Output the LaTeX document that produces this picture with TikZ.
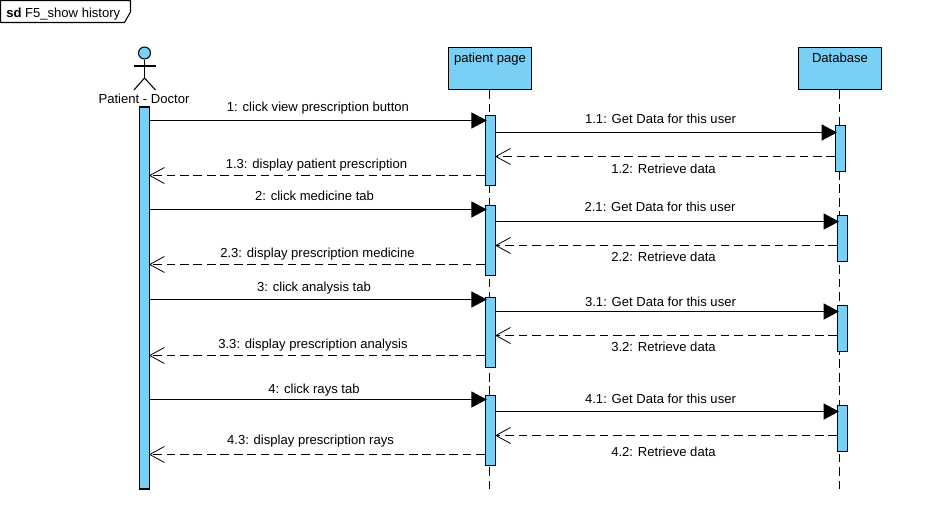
\documentclass[tikz,border=0pt]{standalone}
\usepackage{fontspec}
\setmainfont{Liberation Sans}
\usepackage{xcolor}
\usetikzlibrary{arrows.meta}
\definecolor{lifeblue}{HTML}{7ACFF5}
\tikzset{
  box/.style={draw,fill=lifeblue,line width=0.8pt,minimum width=62.4pt,minimum height=31.7pt,inner sep=0pt},
  boxtext/.style={font=\fontsize{9.8}{11}\selectfont,inner sep=0pt,text height=7pt,text depth=2pt,yshift=-0.6pt},
  bar/.style={draw,fill=lifeblue,line width=0.8pt,minimum width=7.6pt,inner sep=0pt},
  lbl/.style={font=\fontsize{9.8}{11}\selectfont,inner sep=0pt,text height=7pt,text depth=2pt,yshift=-0.6pt},
  call/.style={line width=0.8pt,shorten >=-1.4pt,-{Triangle[length=11.5pt,width=12pt]}},
  reply/.style={line width=0.8pt,dash pattern=on 6.5pt off 3.6pt,shorten >=-0.8pt,-{Straight Barb[length=11pt,width=12pt,line width=0.6pt]}},
  life/.style={line width=0.8pt,dash pattern=on 6.5pt off 3.6pt}
}
\begin{document}
\begin{tikzpicture}[x=0.75pt,y=-0.75pt]
  \useasboundingbox (0,0) rectangle (928,509);
  \draw[line width=0.8pt] (0.5,0.5) -- (130.5,0.5) -- (130.5,12) -- (124.5,22.5) -- (0.5,22.5) --cycle;
  \node[lbl,anchor=west] (title) at (6,13) {\textbf{sd} F5\_show history};

  \node[box] (page) at (490,68.5) {};
  \node[box] (base) at (840,68.5) {};
  \node[boxtext] (pagetext) at (490,58) {patient page};
  \node[boxtext] (basetext) at (840,58) {Database};
  \coordinate (pageend) at (489.5,489);
  \coordinate (baseend) at (839.5,489);
  \draw[life] (page.south -| pageend) -- (pageend);
  \draw[life] (base.south -| baseend) -- (baseend);

  \node[circle,draw,fill=lifeblue,line width=0.8pt,minimum size=9pt,inner sep=0pt] (head) at (144.5,53) {};
  \coordinate (waist) at (144.5,78);
  \coordinate (armleft) at (134,66);
  \coordinate (armright) at (155.5,66);
  \coordinate (footleft) at (134,90);
  \coordinate (footright) at (155.5,90);
  \draw[line width=0.8pt] (head) -- (waist);
  \draw[line width=0.8pt] (armleft) -- (armright);
  \draw[line width=0.8pt] (footleft) -- (waist) -- (footright);
  \node[lbl] (actor) at (144,99.5) {Patient - Doctor};

  \node[bar,minimum height=286.5pt] (main) at (144.4,298) {};

  \node[bar,minimum height=52.5pt] (page1) at (490.5,150.3) {};
  \node[bar,minimum height=52.5pt] (page2) at (490.5,240.3) {};
  \node[bar,minimum height=52.5pt] (page3) at (490.5,332.3) {};
  \node[bar,minimum height=52.5pt] (page4) at (490.5,430.3) {};
  \node[bar,minimum height=34.2pt] (base1) at (840.7,148.5) {};
  \node[bar,minimum height=34.2pt] (base2) at (842.7,238.5) {};
  \node[bar,minimum height=34.2pt] (base3) at (842.7,328.5) {};
  \node[bar,minimum height=34.2pt] (base4) at (842.7,428.5) {};

  \draw[call] (main.east |- 0,120.5) -- (page1.west |- 0,120.5);
  \draw[call] (page1.east |- 0,132.5) -- (base1.west |- 0,132.5);
  \draw[reply] (base1.west |- 0,156.5) -- (page1.east |- 0,156.5);
  \draw[reply] (page1.west |- 0,175.5) -- (main.east |- 0,175.5);

  \draw[call] (main.east |- 0,209.5) -- (page2.west |- 0,209.5);
  \draw[call] (page2.east |- 0,221.5) -- (base2.west |- 0,221.5);
  \draw[reply] (base2.west |- 0,245.5) -- (page2.east |- 0,245.5);
  \draw[reply] (page2.west |- 0,264.5) -- (main.east |- 0,264.5);

  \draw[call] (main.east |- 0,299.5) -- (page3.west |- 0,299.5);
  \draw[call] (page3.east |- 0,311.5) -- (base3.west |- 0,311.5);
  \draw[reply] (base3.west |- 0,335.5) -- (page3.east |- 0,335.5);
  \draw[reply] (page3.west |- 0,355.5) -- (main.east |- 0,355.5);

  \draw[call] (main.east |- 0,399.5) -- (page4.west |- 0,399.5);
  \draw[call] (page4.east |- 0,411.5) -- (base4.west |- 0,411.5);
  \draw[reply] (base4.west |- 0,435.5) -- (page4.east |- 0,435.5);
  \draw[reply] (page4.west |- 0,454.5) -- (main.east |- 0,454.5);

  \node[lbl] (m1) at (318,107.5) {1: click view prescription button};
  \node[lbl] (m11) at (660.5,119.5) {1.1: Get Data for this user};
  \node[lbl] (m12) at (663.5,169.5) {1.2: Retrieve data};
  \node[lbl] (m13) at (316.5,164.5) {1.3: display patient prescription};

  \node[lbl] (m2) at (314.5,196.5) {2: click medicine tab};
  \node[lbl] (m21) at (660,207.5) {2.1: Get Data for this user};
  \node[lbl] (m22) at (663.5,257.5) {2.2: Retrieve data};
  \node[lbl] (m23) at (317.5,253.5) {2.3: display prescription medicine};

  \node[lbl] (m3) at (314,287.5) {3: click analysis tab};
  \node[lbl] (m31) at (660.5,302.5) {3.1: Get Data for this user};
  \node[lbl] (m32) at (663.5,347.5) {3.2: Retrieve data};
  \node[lbl] (m33) at (313,344.5) {3.3: display prescription analysis};

  \node[lbl] (m4) at (314,389.5) {4: click rays tab};
  \node[lbl] (m41) at (660.5,399.5) {4.1: Get Data for this user};
  \node[lbl] (m42) at (663.5,452.5) {4.2: Retrieve data};
  \node[lbl] (m43) at (310.5,440.5) {4.3: display prescription rays};
\end{tikzpicture}
\end{document}
